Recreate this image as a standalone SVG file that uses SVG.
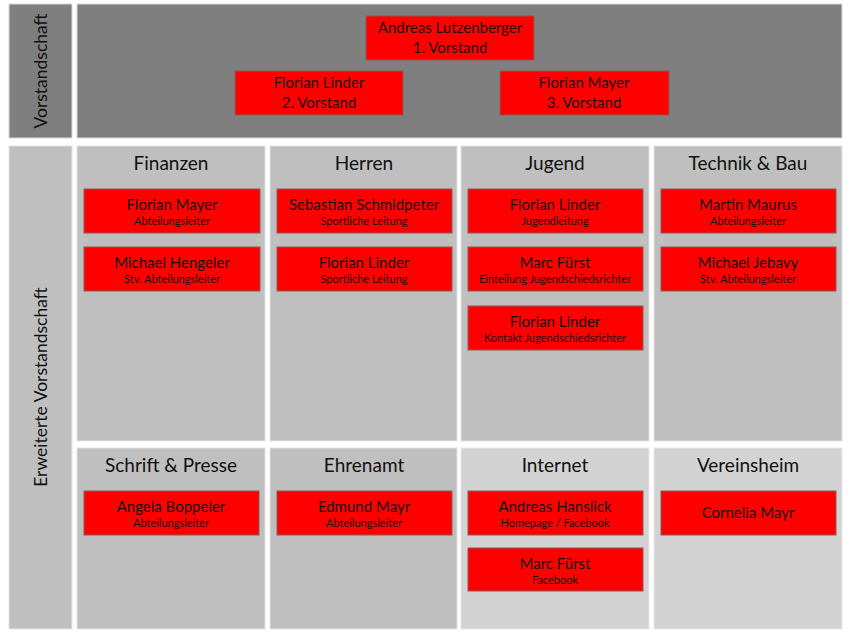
<svg xmlns="http://www.w3.org/2000/svg" width="853" height="640" viewBox="0 0 853 640">
<style>
.pd{fill:#7f7f7f;stroke:#d9d9d9;stroke-width:1}
.pl{fill:#bfbfbf;stroke:#e3e3e3;stroke-width:1}
.px{fill:#d3d3d3;stroke:#e8e8e8;stroke-width:1}
.box{fill:#ff0000;stroke:#8a5a5a;stroke-width:1}
text{font-family:Lato,"Open Sans","Liberation Sans",sans-serif;fill:#111;text-anchor:middle}
.h{font-size:19px}
.n{font-size:15px}
.s{font-size:11px}
.v{font-size:17.5px}
</style>
<rect width="853" height="640" fill="#fff"/>
<g id="vorstandschaft">
<rect class="pd" x="9" y="4" width="63" height="134"/>
<text class="v" transform="translate(47 71) rotate(-90)">Vorstandschaft</text>
<rect class="pd" x="77" y="4" width="765" height="134"/>
</g>
<g id="erweiterte">
<rect class="pl" x="9" y="146" width="63" height="483"/>
<text class="v" transform="translate(47 387) rotate(-90)">Erweiterte Vorstandschaft</text>
</g>
<g id="panels">
<rect class="pl" x="77" y="146" width="188" height="295"/>
<rect class="pl" x="270" y="146" width="187" height="295"/>
<rect class="pl" x="461" y="146" width="188" height="295"/>
<rect class="pl" x="654" y="146" width="188" height="295"/>
<rect class="pl" x="77" y="448" width="188" height="181"/>
<rect class="pl" x="270" y="448" width="187" height="181"/>
<rect class="px" x="461" y="448" width="188" height="181"/>
<rect class="px" x="654" y="448" width="188" height="181"/>
<text class="h" x="171" y="170">Finanzen</text>
<text class="h" x="364" y="170">Herren</text>
<text class="h" x="555" y="170">Jugend</text>
<text class="h" x="748" y="170">Technik &amp; Bau</text>
<text class="h" x="171" y="472">Schrift &amp; Presse</text>
<text class="h" x="364" y="472">Ehrenamt</text>
<text class="h" x="555" y="472">Internet</text>
<text class="h" x="748" y="472">Vereinsheim</text>
</g>
<g id="connectors"></g>
<g id="v1"><rect class="box" x="366" y="16" width="168" height="44"/><text class="n" x="450" y="33">Andreas Lutzenberger</text><text class="n" x="450" y="53">1. Vorstand</text></g>
<g id="v2"><rect class="box" x="235" y="71" width="168" height="44"/><text class="n" x="319" y="88">Florian Linder</text><text class="n" x="319" y="108">2. Vorstand</text></g>
<g id="v3"><rect class="box" x="500" y="71" width="169" height="44"/><text class="n" x="584" y="88">Florian Mayer</text><text class="n" x="584" y="108">3. Vorstand</text></g>
<g id="fin1"><rect class="box" x="84" y="189" width="176" height="44"/><text class="n" x="172" y="210">Florian Mayer</text><text class="s" x="172" y="225">Abteilungsleiter</text></g>
<g id="fin2"><rect class="box" x="84" y="247" width="176" height="44"/><text class="n" x="172" y="268">Michael Hengeler</text><text class="s" x="172" y="283">Stv. Abteilungsleiter</text></g>
<g id="her1"><rect class="box" x="277" y="189" width="175" height="44"/><text class="n" x="364" y="210">Sebastian Schmidpeter</text><text class="s" x="364" y="225">Sportliche Leitung</text></g>
<g id="her2"><rect class="box" x="277" y="247" width="175" height="44"/><text class="n" x="364" y="268">Florian Linder</text><text class="s" x="364" y="283">Sportliche Leitung</text></g>
<g id="jug1"><rect class="box" x="468" y="189" width="175" height="44"/><text class="n" x="555" y="210">Florian Linder</text><text class="s" x="555" y="225">Jugendleitung</text></g>
<g id="jug2"><rect class="box" x="468" y="247" width="175" height="44"/><text class="n" x="555" y="268">Marc Fürst</text><text class="s" x="555" y="283">Einteilung Jugendschiedsrichter</text></g>
<g id="jug3"><rect class="box" x="468" y="306" width="175" height="44"/><text class="n" x="555" y="327">Florian Linder</text><text class="s" x="555" y="342">Kontakt Jugendschiedsrichter</text></g>
<g id="tec1"><rect class="box" x="661" y="189" width="175" height="44"/><text class="n" x="748" y="210">Martin Maurus</text><text class="s" x="748" y="225">Abteilungsleiter</text></g>
<g id="tec2"><rect class="box" x="661" y="247" width="175" height="44"/><text class="n" x="748" y="268">Michael Jebavy</text><text class="s" x="748" y="283">Stv. Abteilungsleiter</text></g>
<g id="sch1"><rect class="box" x="84" y="491" width="175" height="44"/><text class="n" x="171" y="512">Angela Boppeler</text><text class="s" x="171" y="527">Abteilungsleiter</text></g>
<g id="ehr1"><rect class="box" x="277" y="491" width="175" height="44"/><text class="n" x="364" y="512">Edmund Mayr</text><text class="s" x="364" y="527">Abteilungsleiter</text></g>
<g id="int1"><rect class="box" x="468" y="491" width="175" height="44"/><text class="n" x="555" y="512">Andreas Hanslick</text><text class="s" x="555" y="527">Homepage / Facebook</text></g>
<g id="int2"><rect class="box" x="468" y="548" width="175" height="43"/><text class="n" x="555" y="569">Marc Fürst</text><text class="s" x="555" y="584">Facebook</text></g>
<g id="ver1"><rect class="box" x="661" y="491" width="175" height="44"/><text class="n" x="748" y="518">Cornelia Mayr</text></g>
</svg>
